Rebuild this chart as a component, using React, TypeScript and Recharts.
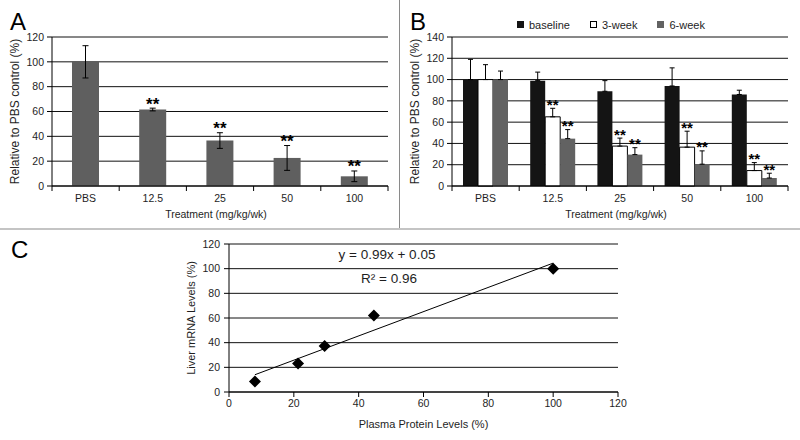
import React from 'react';
import {
  BarChart,
  Bar,
  XAxis,
  YAxis,
  CartesianGrid,
  ErrorBar,
  LabelList,
  Label,
  Legend,
  ScatterChart,
  Scatter,
} from 'recharts';

const doses = ['PBS', '12.5', '25', '50', '100'];

// A: plasma protein relative to PBS
const plasmaLevel = [100, 61.6, 36.6, 22.6, 7.8];
const plasmaErr = [13, 1.1, 6.3, 10, 4.3];
const plasmaSig = [false, true, true, true, true];

// B: by time point
const baseline = [100, 99, 89, 94, 86];
const baselineErr = [19, 8, 10, 17, 4];
const week3 = [100, 65, 37.5, 36.5, 14.5];
const week3Err = [14, 8, 7.5, 15, 7.5];
const week6 = [100, 44.5, 29.5, 20.5, 7.5];
const week6Err = [8, 8.5, 6.5, 12.5, 4.5];
const week3Sig = [false, true, true, true, true];
const week6Sig = [false, true, true, true, true];

// C: correlation
const proteinX = [8, 21.3, 29.5, 44.7, 100];
const mrnaY = [8.5, 23.2, 37.2, 62, 100];
const trendX = [8, 100];
const trendY = [14, 104.5];

const yTicksA = [0, 20, 40, 60, 80, 100, 120];
const yTicksB = [0, 20, 40, 60, 80, 100, 120, 140];
const ticksC = [0, 20, 40, 60, 80, 100, 120];

const FONT = '"Liberation Sans", Arial, Helvetica, sans-serif';
const INK = '#1e1e1e';

const dataA = doses.map((d, i) => ({ dose: d, level: plasmaLevel[i], err: plasmaErr[i] }));
const dataB = doses.map((d, i) => ({
  dose: d,
  baseline: baseline[i],
  week3: week3[i],
  week6: week6[i],
  baselineErr: [0, baselineErr[i]],
  week3Err: [0, week3Err[i]],
  week6Err: [0, week6Err[i]],
}));
const pointsC = proteinX.map((x, i) => ({ x, y: mrnaY[i] }));
const trendC = trendX.map((x, i) => ({ x, y: trendY[i] }));

const PLOT_W = 400 - 52 - 12;

// category labels with tick marks between the groups
function BandTick(props: any) {
  const { x, y, payload, index } = props;
  const half = PLOT_W / doses.length / 2;
  const axisY = y - 8;
  return (
    <g>
      <line x1={x - half} x2={x - half} y1={axisY} y2={axisY + 5} stroke="#000" />
      {index === doses.length - 1 && (
        <line x1={x + half} x2={x + half} y1={axisY} y2={axisY + 5} stroke="#000" />
      )}
      <text x={x} y={y + 1} dy="0.71em" textAnchor="middle" fontSize={10.5} fill={INK}>
        {payload.value}
      </text>
    </g>
  );
}

const yTitle = (text: string, dx: number, size: number) => (props: any) => {
  const vb = props.viewBox;
  const cx = vb.x + dx;
  const cy = vb.y + vb.height / 2;
  return (
    <text
      x={cx}
      y={cy}
      transform={`rotate(-90, ${cx}, ${cy})`}
      textAnchor="middle"
      dominantBaseline="central"
      fontSize={size}
      fill={INK}
    >
      {text}
    </text>
  );
};

const xTitle = (text: string, dx: number, dy: number, size: number) => (props: any) => {
  const vb = props.viewBox;
  return (
    <text
      x={vb.x + vb.width / 2 + dx}
      y={vb.y + dy}
      textAnchor="middle"
      dominantBaseline="central"
      fontSize={size}
      fill={INK}
    >
      {text}
    </text>
  );
};

// "**" sitting just above the error bar
const stars = (sig: boolean[], errs: number[], size: number) => (p: any) => {
  const vb = p.viewBox ?? p;
  const idx = p.index;
  if (!sig[idx]) return null;
  const value = Number(p.value);
  const perUnit = vb.height / value;
  const top = vb.y - errs[idx] * perUnit;
  return (
    <text
      x={vb.x + vb.width / 2}
      y={top + 1.5}
      textAnchor="middle"
      fontSize={size}
      fontWeight="bold"
      fill="#000"
    >
      **
    </text>
  );
};

const Diamond = (p: any) => (
  <polygon
    points={`${p.cx},${p.cy - 6} ${p.cx + 6},${p.cy} ${p.cx},${p.cy + 6} ${p.cx - 6},${p.cy}`}
    fill="#000"
  />
);

const legendItems = [
  { label: 'baseline', color: '#141414' },
  { label: '3-week', color: '#ffffff' },
  { label: '6-week', color: '#626262' },
];

const LegendB = () => (
  <div style={{ display: 'flex', alignItems: 'center', fontSize: 11, color: INK, height: 13 }}>
    {legendItems.map((it) => (
      <div key={it.label} style={{ display: 'flex', alignItems: 'center', marginRight: 20 }}>
        <span
          style={{
            display: 'inline-block',
            width: it.color === '#ffffff' ? 5 : 7,
            height: it.color === '#ffffff' ? 5 : 7,
            background: it.color,
            border: it.color === '#ffffff' ? '1px solid #000' : 'none',
            marginRight: 5,
          }}
        />
        <span>{it.label}</span>
      </div>
    ))}
  </div>
);

const yAxisProps = {
  axisLine: { stroke: '#000' },
  tickLine: { stroke: '#000' },
  tickSize: 5,
  tickMargin: 3,
  tick: { fontSize: 10.5, fill: INK },
  interval: 0 as const,
};

export default function App() {
  return (
    <div
      style={{
        position: 'absolute',
        left: 0,
        top: 0,
        width: 800,
        height: 440,
        background: '#fff',
        fontFamily: FONT,
        overflow: 'hidden',
      }}
    >
      <div style={{ position: 'absolute', left: 10, top: 10, fontSize: 24, lineHeight: '24px' }}>A</div>
      <div style={{ position: 'absolute', left: 410, top: 10, fontSize: 24, lineHeight: '24px' }}>B</div>
      <div style={{ position: 'absolute', left: 11, top: 238, fontSize: 24, lineHeight: '24px' }}>C</div>

      <div style={{ position: 'absolute', left: 399, top: 0, width: 1, height: 228, background: '#8a8a8a' }} />
      <div style={{ position: 'absolute', left: 0, top: 228, width: 800, height: 2, background: '#c4c4c4' }} />

      <div style={{ position: 'absolute', left: 0, top: 0 }}>
        <BarChart width={400} height={230} data={dataA} margin={{ top: 37, right: 12, left: 0, bottom: 4 }} barCategoryGap={20}>
          <CartesianGrid vertical={false} stroke="#111" />
          <XAxis
            dataKey="dose"
            height={40}
            axisLine={{ stroke: '#000' }}
            tickLine={false}
            tickSize={5}
            tickMargin={3}
            interval={0}
            tick={<BandTick />}
          >
            <Label content={xTitle('Treatment (mg/kg/wk)', -4, 28, 10.5)} />
          </XAxis>
          <YAxis width={52} domain={[0, 120]} ticks={yTicksA} {...yAxisProps}>
            <Label content={yTitle('Relative to PBS control (%)', 15, 12)} />
          </YAxis>
          <Bar dataKey="level" fill="#5f5f5f" isAnimationActive={false}>
            <ErrorBar dataKey="err" width={3} stroke="#000" strokeWidth={1} direction="y" />
            <LabelList dataKey="level" content={stars(plasmaSig, plasmaErr, 17)} />
          </Bar>
        </BarChart>
      </div>

      <div style={{ position: 'absolute', left: 400, top: 0 }}>
        <BarChart
          width={400}
          height={230}
          data={dataB}
          margin={{ top: 37, right: 12, left: 0, bottom: 4 }}
          barCategoryGap={11}
          barGap={0}
        >
          <CartesianGrid vertical={false} stroke="#111" />
          <XAxis
            dataKey="dose"
            height={40}
            axisLine={{ stroke: '#000' }}
            tickLine={false}
            tickSize={5}
            tickMargin={3}
            interval={0}
            tick={<BandTick />}
          >
            <Label content={xTitle('Treatment (mg/kg/wk)', -4, 28, 10.5)} />
          </XAxis>
          <YAxis width={52} domain={[0, 140]} ticks={yTicksB} {...yAxisProps}>
            <Label content={yTitle('Relative to PBS control (%)', 15, 12)} />
          </YAxis>
          <Legend
            layout="horizontal"
            verticalAlign="middle"
            align="center"
            content={<LegendB />}
            wrapperStyle={{ top: 18, left: 117, width: 'auto' }}
          />
          <Bar dataKey="baseline" name="baseline" fill="#141414" isAnimationActive={false}>
            <ErrorBar dataKey="baselineErr" width={2.5} stroke="#000" strokeWidth={1} direction="y" />
          </Bar>
          <Bar dataKey="week3" name="3-week" fill="#ffffff" stroke="#000" strokeWidth={1} isAnimationActive={false}>
            <ErrorBar dataKey="week3Err" width={2.5} stroke="#000" strokeWidth={1} direction="y" />
            <LabelList dataKey="week3" content={stars(week3Sig, week3Err, 15)} />
          </Bar>
          <Bar dataKey="week6" name="6-week" fill="#626262" isAnimationActive={false}>
            <ErrorBar dataKey="week6Err" width={2.5} stroke="#000" strokeWidth={1} direction="y" />
            <LabelList dataKey="week6" content={stars(week6Sig, week6Err, 15)} />
          </Bar>
        </BarChart>
      </div>

      <div style={{ position: 'absolute', left: 0, top: 230 }}>
        <ScatterChart width={800} height={210} margin={{ top: 14, right: 182, bottom: 5, left: 180 }}>
          <CartesianGrid vertical={false} stroke="#111" />
          <XAxis
            type="number"
            dataKey="x"
            domain={[0, 120]}
            ticks={ticksC}
            height={43}
            axisLine={{ stroke: '#000' }}
            tickLine={{ stroke: '#000' }}
            tickSize={5}
            tickMargin={3}
            interval={0}
            tick={{ fontSize: 10.5, fill: INK }}
          >
            <Label content={xTitle('Plasma Protein Levels (%)', 0, 32, 11)} />
          </XAxis>
          <YAxis
            type="number"
            dataKey="y"
            width={49}
            domain={[0, 120]}
            ticks={ticksC}
            {...yAxisProps}
            tickMargin={4}
            tick={{ fontSize: 10.5, fill: INK }}
          >
            <Label content={yTitle('Liver mRNA Levels (%)', 11, 11)} />
          </YAxis>
          <Scatter
            data={trendC}
            line={{ stroke: '#000', strokeWidth: 1 }}
            shape={() => <g />}
            isAnimationActive={false}
          />
          <Scatter data={pointsC} shape={<Diamond />} fill="#000" isAnimationActive={false} />
        </ScatterChart>
      </div>

      <div
        style={{
          position: 'absolute',
          left: 287,
          top: 247,
          width: 200,
          textAlign: 'center',
          fontSize: 13.5,
          lineHeight: '16px',
          color: INK,
        }}
      >
        y = 0.99x + 0.05
      </div>
      <div
        style={{
          position: 'absolute',
          left: 289,
          top: 271,
          width: 200,
          textAlign: 'center',
          fontSize: 13.5,
          lineHeight: '16px',
          color: INK,
        }}
      >
        R² = 0.96
      </div>
    </div>
  );
}
